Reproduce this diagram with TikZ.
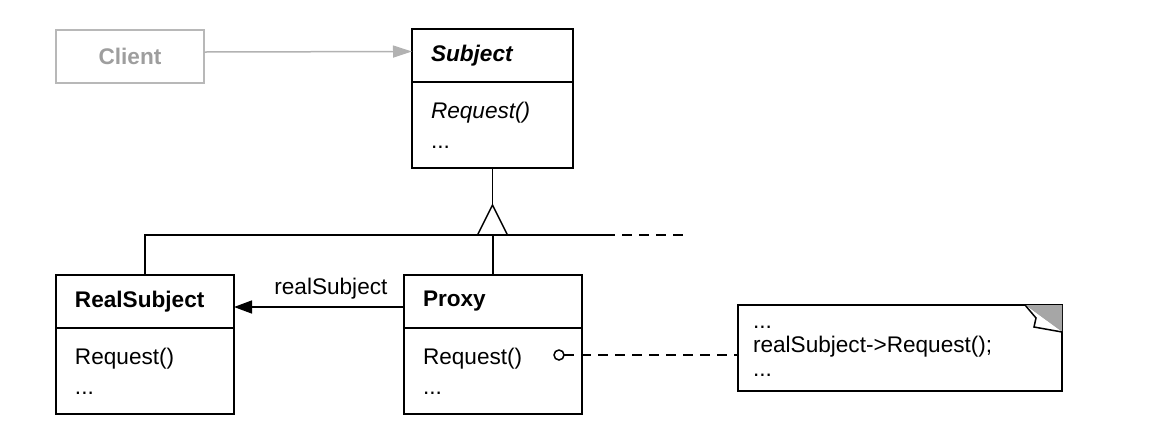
\documentclass[tikz,border=0pt]{standalone}
\usepackage{fontspec}
\setmainfont{Liberation Sans}
\usetikzlibrary{positioning}
\usetikzlibrary{arrows.meta}
\newcommand\umlfont{\fontsize{11.3}{15}\selectfont}
\newcommand\notefont{\fontsize{11.3}{12}\selectfont}

\begin{document}
\begin{tikzpicture}[x=0.5pt, y=-0.5pt,% one unit = one pixel of the reference
node distance = 0mm and 0mm,% header and operations touch
   head/.style = {draw, line width=1pt, outer sep=0pt, minimum height=26.5pt,
                  inner xsep=9.5pt, text width=#1, align=left, font=\umlfont\bfseries},
    ops/.style = {draw, line width=1pt, outer sep=0pt, minimum height=43pt,
                  inner xsep=9.5pt, text width=#1, align=left, font=\umlfont},
   line/.style = {line width=0.75pt},
  arrow/.style = {line, -{Triangle[length=9pt,width=6.5pt]}},
  dashy/.style = {line, dash pattern=on 5pt off 3.5pt}
                        ]
\useasboundingbox (0,0) rectangle (1152,435);
% classes
\node (client) [head=55pt, align=center, draw=black!28, text=black!38] at (130,56) {Client};
\node (subj) [head=61.5pt, font=\umlfont\bfseries\itshape] at (492.5,55.5) {Subject};
\node (subjops) [ops=61.5pt, below=of subj] {\textit{Request()}\\...};
\node (rs) [head=70pt] at (145,301.5) {RealSubject};
\node (rsops) [ops=70pt, below=of rs] {Request()\\...};
\node (proxy) [head=70pt] at (493,301.5) {Proxy};
\node (proxyops) [ops=70pt, below=of proxy] {Request()\\...};
% note
\node (note) [draw, line width=1pt, outer sep=0pt, minimum width=162pt, minimum height=43pt,
              inner xsep=7.5pt, text width=147pt, align=left, font=\notefont]
              at (900,348) {\strut...\\realSubject->Request();\\...\strut};
\fill [black!35] ([shift={(-37,0)}]note.north east) -- (note.north east)
      -- ([shift={(0,27)}]note.north east) -- cycle;
\filldraw [line, fill=white] ([shift={(-37,0)}]note.north east) -- ++(11,13) -- ++(-2,9)
      -- ([shift={(0,27)}]note.north east);
\node (knob) [circle, draw, line, inner sep=0pt, outer sep=0pt, minimum size=5pt] at (559,355) {};
% connectors
\draw [line, draw=black!30, -{Triangle[length=9.5pt,width=6pt,fill=black!30]}]
      ([yshift=2pt]client.east) -- ([yshift=2pt]subj.west);
\draw [line] (subjops.south) -- ++(0,37) coordinate (apex);
\draw [line] (apex) -- ++(-15,30) coordinate (bl) -- ++(30,0) -- cycle;
\coordinate (busend) at (605,235);
\coordinate (busopen) at (685,235);
\draw [line] (rs.north) |- (busend);
\draw [dashy] (busend) -- (busopen);
\draw [line] (proxy.north) -- (proxy.north |- bl);
\draw [arrow] ([yshift=-2.75pt]proxy.west) --node [pos=0.43, above, font=\umlfont] {realSubject}
      ([yshift=-2.75pt]rs.east);
\draw [dashy] (knob) -- (knob -| note.west);
\end{tikzpicture}
\end{document}
